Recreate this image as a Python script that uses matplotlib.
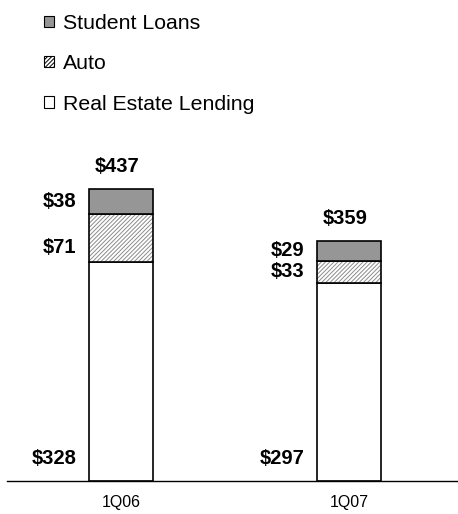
import matplotlib
matplotlib.use("Agg")
import matplotlib.pyplot as plt
from matplotlib.patches import Patch

plt.rcParams['font.family'] = ['Liberation Sans', 'DejaVu Sans']
plt.rcParams['hatch.linewidth'] = 0.7

categories = ["1Q06", "1Q07"]
real_estate = [328, 297]
auto = [71, 33]
student = [38, 29]
totals = [437, 359]
series_names = ["Real Estate Lending", "Auto", "Student Loans"]

fig = plt.figure(figsize=(4.58, 5.14), dpi=100)
ax = fig.add_axes([7/458, 33/514, 451/458, 481/514])
ax.set_xlim(-0.5, 1.478)
ax.set_ylim(0, 720)

x = list(range(len(categories)))
w = 0.28

bottoms_auto = real_estate
bottoms_stud = [r + a for r, a in zip(real_estate, auto)]

hatch_col = "#8c8c8c"
ax.bar(x, real_estate, w, color="white", edgecolor="black", linewidth=1.2, zorder=2)
ax.bar(x, auto, w, bottom=bottoms_auto, color="white", edgecolor=hatch_col,
       hatch="////////", linewidth=0, zorder=2)
ax.bar(x, auto, w, bottom=bottoms_auto, color="none", edgecolor="black", linewidth=1.2, zorder=3)
ax.bar(x, student, w, bottom=bottoms_stud, color="#969696", edgecolor="black", linewidth=1.2, zorder=3)

lbl = dict(fontsize=14.5, fontweight="bold", color="black")
for i in x:
    left = i - w / 2
    ax.annotate(f"${totals[i]}", (i, totals[i]), xytext=(-3, 16), textcoords="offset points",
                ha="center", va="center", **lbl)
    ax.annotate(f"${student[i]}", (left, bottoms_stud[i] + student[i] / 2), xytext=(-9, 0),
                textcoords="offset points", ha="right", va="center", **lbl)
    off = -7 if auto[i] > 50 else 0
    ax.annotate(f"${auto[i]}", (left, bottoms_auto[i] + auto[i] / 2), xytext=(-9, off),
                textcoords="offset points", ha="right", va="center", **lbl)
    ax.annotate(f"${real_estate[i]}", (left, 0), xytext=(-9, 16), textcoords="offset points",
                ha="right", va="center", **lbl)

for s in ["top", "right", "left"]:
    ax.spines[s].set_visible(False)
ax.spines["bottom"].set_linewidth(1.0)
ax.set_yticks([])
ax.set_xticks(x)
ax.set_xticklabels(categories, fontsize=11.5)
ax.tick_params(axis="x", length=0, pad=10)

handles = [
    Patch(facecolor="#969696", edgecolor="black", linewidth=0.8),
    Patch(facecolor="white", edgecolor=hatch_col, hatch="////////", linewidth=0.8),
    Patch(facecolor="white", edgecolor="black", linewidth=0.8),
]
leg = fig.legend(handles, ["Student Loans", "Auto", "Real Estate Lending"],
                 loc="upper left", bbox_to_anchor=(44/458, 1 - 14/514), frameon=False,
                 fontsize=15.3, handlelength=0.45, handleheight=0.45, handletextpad=0.45,
                 labelspacing=1.0, borderaxespad=0, borderpad=0)
for h in leg.legend_handles:
    h.set_edgecolor("black")

fig.savefig("out.png", dpi=100)
